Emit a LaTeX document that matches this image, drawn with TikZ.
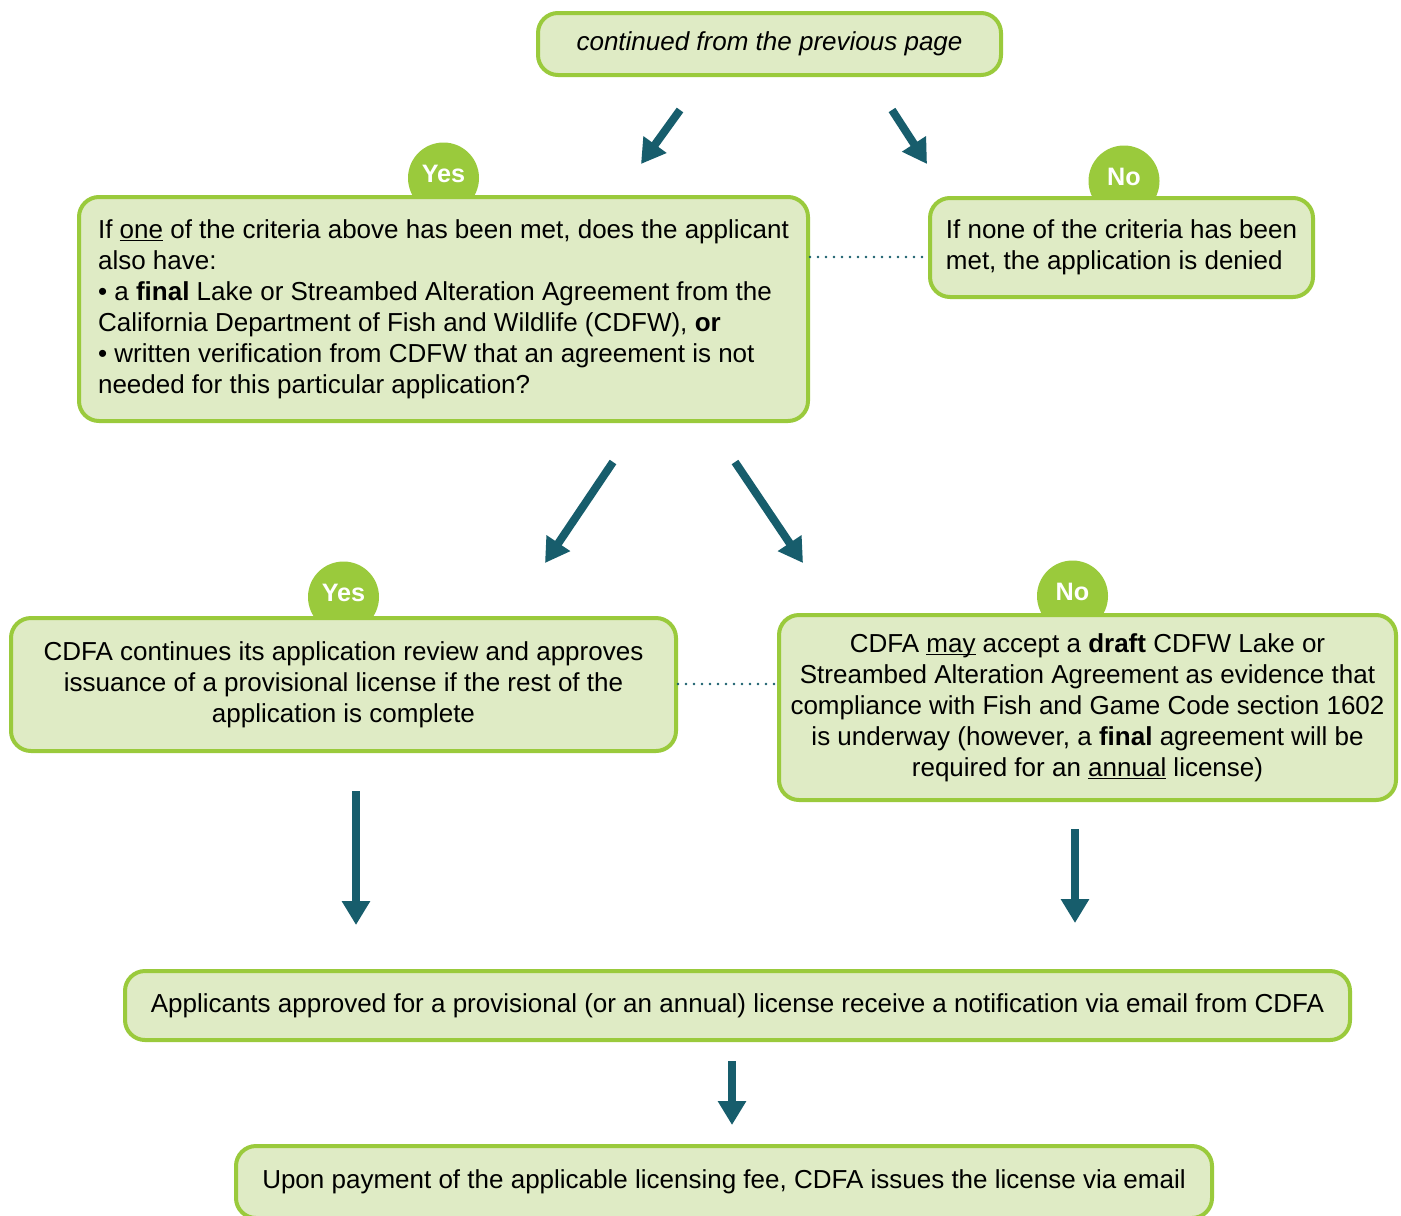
\documentclass[tikz,border=0pt]{standalone}
\usepackage{fontspec}
\setmainfont{Liberation Sans}
\usetikzlibrary{arrows.meta}
\definecolor{bfill}{HTML}{DFEBC5}
\definecolor{bline}{HTML}{9ACA3C}
\definecolor{arr}{HTML}{175D6C}
\newcommand\myul[1]{\setbox0\hbox{#1}\rlap{\rule[-1.6pt]{\wd0}{0.7pt}}\box0\relax}
\begin{document}
\begin{tikzpicture}[x=0.5pt,y=-0.5pt,
  box/.style={draw=bline, fill=bfill, line width=2pt, rounded corners=10pt, inner sep=0pt,
    font=\fontsize{13}{15.5}\selectfont},
  badge/.style={circle, fill=bline, minimum size=35.5pt, inner sep=0pt, text=white,
    font=\fontsize{12.6}{14}\selectfont\bfseries},
  arrow/.style={draw=arr, line width=4pt, -{Triangle[width=13.5pt,length=12pt]}},
  dots/.style={draw=arr, line width=1.4pt, line cap=round, dash pattern=on 0pt off 4pt}]
\useasboundingbox (0,0) rectangle (1401,1215);
\clip (0,0) rectangle (1401,1215);
\fill[white] (0,0) rectangle (1401,1215);

% badges (behind the boxes)
\node[badge] (y1) at (443.5,178) {\raisebox{4pt}{Yes}};
\node[badge] (n1) at (1124,181) {\raisebox{4pt}{No}};
\node[badge] (y2) at (343.5,597) {\raisebox{4pt}{Yes}};
\node[badge] (n2) at (1072.5,596) {\raisebox{4pt}{No}};

% boxes
\node[box, minimum width=231.5pt, minimum height=31pt] (top) at (769.5,44)
  {\itshape continued from the previous page};
\node[box, minimum width=364.5pt, minimum height=112pt, align=left] (A) at (443.5,309)
  {If \myul{one} of the criteria above has been met, does the applicant\\
   also have:\\
   • a \textbf{final} Lake or Streambed Alteration Agreement from the\\
   California Department of Fish and Wildlife (CDFW), \textbf{or}\\
   • written verification from CDFW that an agreement is not\\
   needed for this particular application?};
\node[box, minimum width=191.5pt, minimum height=49.5pt, align=left] (B) at (1121.5,247.5)
  {If none of the criteria has been\\met, the application is denied};
\node[box, minimum width=332.5pt, minimum height=66.5pt, align=center] (C) at (343.5,684.5)
  {CDFA continues its application review and approves\\
   issuance of a provisional license if the rest of the\\
   application is complete};
\node[box, minimum width=308.5pt, minimum height=92.5pt, align=center] (D) at (1087.5,707.5)
  {CDFA \myul{may} accept a \textbf{draft} CDFW Lake or\\
   Streambed Alteration Agreement as evidence that\\
   compliance with Fish and Game Code section 1602\\
   is underway (however, a \textbf{final} agreement will be\\
   required for an \myul{annual} license)};
\node[box, minimum width=612.5pt, minimum height=34.5pt] (E) at (737.5,1005.5)
  {Applicants approved for a provisional (or an annual) license receive a notification via email from CDFA};
\node[box, minimum width=488pt, minimum height=36pt] (F) at (724,1182)
  {Upon payment of the applicable licensing fee, CDFA issues the license via email};

% dotted links
\coordinate (d1) at (0,257);
\coordinate (d2) at (0,684);
\draw[dots] (A.east |- d1) -- (B.west |- d1);
\draw[dots] (C.east |- d2) -- (D.west |- d2);

% arrows
\coordinate (a1s) at (680,110);  \coordinate (a1e) at (641,164);
\coordinate (a2s) at (892,110);  \coordinate (a2e) at (927,164);
\coordinate (a3s) at (613,462);  \coordinate (a3e) at (545,563);
\coordinate (a4s) at (735,462);  \coordinate (a4e) at (803,563);
\coordinate (a5s) at (356,791);  \coordinate (a5e) at (356,925);
\coordinate (a6s) at (1075,829); \coordinate (a6e) at (1075,923);
\coordinate (a7s) at (732,1061); \coordinate (a7e) at (732,1125);
\draw[arrow] (a1s) -- (a1e);
\draw[arrow] (a2s) -- (a2e);
\draw[arrow] (a3s) -- (a3e);
\draw[arrow] (a4s) -- (a4e);
\draw[arrow] (a5s) -- (a5e);
\draw[arrow] (a6s) -- (a6e);
\draw[arrow] (a7s) -- (a7e);
\end{tikzpicture}
\end{document}
